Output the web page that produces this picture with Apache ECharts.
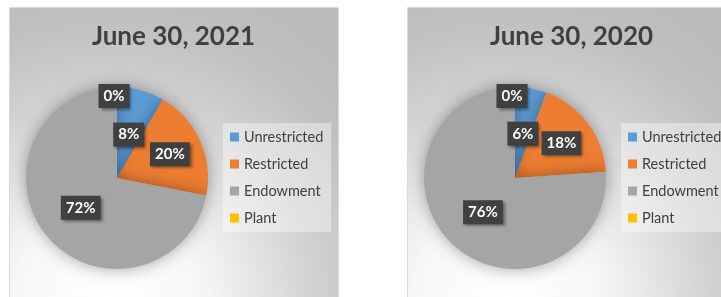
<!DOCTYPE html>
<html>
<head>
<meta charset="utf-8">
<script src="https://cdn.jsdelivr.net/npm/echarts@6/dist/echarts.min.js"></script>
<style>html,body{margin:0;padding:0;background:#fff}#c{width:721px;height:297px}</style>
</head>
<body>
<div id="c"></div>
<script>
const categories = ['Unrestricted', 'Restricted', 'Endowment', 'Plant'];
const colors = ['#5b9bd5', '#ed7d31', '#a5a5a5', '#ffc000'];
const titles = ['June 30, 2021', 'June 30, 2020'];
const values2021 = [8.4, 19.7, 71.9, 0];
const values2020 = [5.6, 18.3, 76.1, 0];

const panels = [
  {x: 9.5, cx: 117, cy: 178, values: values2021, title: titles[0]},
  {x: 407.5, cx: 515, cy: 178, values: values2020, title: titles[1]}
];
const PW = 329, PH = 300, PY = 7.5;
const labelRadius = [45, 58, 47, 82];
const labelDx = [0, 0, 0, -3];

const chart = echarts.init(document.getElementById('c'), null, {renderer: 'canvas'});

const graphic = [];
panels.forEach(p => {
  graphic.push({
    type: 'rect', z: -10, silent: true,
    shape: {x: p.x, y: PY, width: PW, height: PH},
    style: {
      fill: {
        type: 'radial', x: 0.3, y: 0.98, r: 1.1,
        colorStops: [
          {offset: 0, color: '#ffffff'},
          {offset: 0.28, color: '#f7f7f7'},
          {offset: 0.62, color: '#d2d2d2'},
          {offset: 0.85, color: '#c0c0c0'},
          {offset: 1, color: '#bcbcbc'}
        ]
      },
      stroke: '#d9d9d9', lineWidth: 1
    }
  });
  graphic.push({
    type: 'text', z: 10, silent: true,
    x: p.x + 164, y: 37,
    style: {
      text: p.title, fill: '#404040', align: 'center', verticalAlign: 'middle',
      font: 'bold 26px Lato, "Open Sans", sans-serif'
    }
  });
});

const series = panels.map((p, si) => ({
  type: 'pie',
  center: [p.cx, p.cy],
  radius: 91,
  startAngle: 90,
  clockwise: true,
  percentPrecision: 0,
  avoidLabelOverlap: false,
  animation: false,
  data: categories.map((c, i) => ({name: c, value: p.values[i], itemStyle: {color: colors[i]}})),
  itemStyle: {
    borderWidth: 0,
    shadowBlur: 16,
    shadowColor: 'rgba(0,0,0,0.35)'
  },
  emphasis: {disabled: true},
  label: {
    show: true,
    position: 'inside',
    formatter: '{d}%',
    color: '#ffffff',
    fontFamily: 'Lato, "Open Sans", sans-serif',
    fontWeight: 'bold',
    fontSize: 15,
    backgroundColor: '#404040',
    padding: [5, 5, 4, 5],
    shadowColor: 'rgba(0,0,0,0.45)',
    shadowBlur: 3,
    shadowOffsetX: 2,
    shadowOffsetY: 2
  },
  labelLine: {show: false},
  labelLayout: function (params) {
    const r = params.labelRect;
    const mx = r.x + r.width / 2, my = r.y + r.height / 2;
    const vx = mx - p.cx, vy = my - p.cy;
    const len = Math.sqrt(vx * vx + vy * vy) || 1;
    const k = labelRadius[params.dataIndex] / len;
    return {dx: vx * k - vx + labelDx[params.dataIndex], dy: vy * k - vy};
  }
}));

const legends = panels.map(p => ({
  orient: 'vertical',
  left: p.x + 213.5,
  top: 123,
  data: categories,
  icon: 'rect',
  itemWidth: 9,
  itemHeight: 9,
  itemGap: 11,
  padding: [6, 8, 6, 7],
  backgroundColor: 'rgba(255,255,255,0.38)',
  selectedMode: false,
  textStyle: {
    color: '#404040',
    fontSize: 14.5,
    lineHeight: 16,
    fontFamily: 'Lato, "Open Sans", sans-serif'
  }
}));

chart.setOption({
  backgroundColor: '#ffffff',
  animation: false,
  graphic: graphic,
  legend: legends,
  series: series
});
</script>
</body>
</html>
